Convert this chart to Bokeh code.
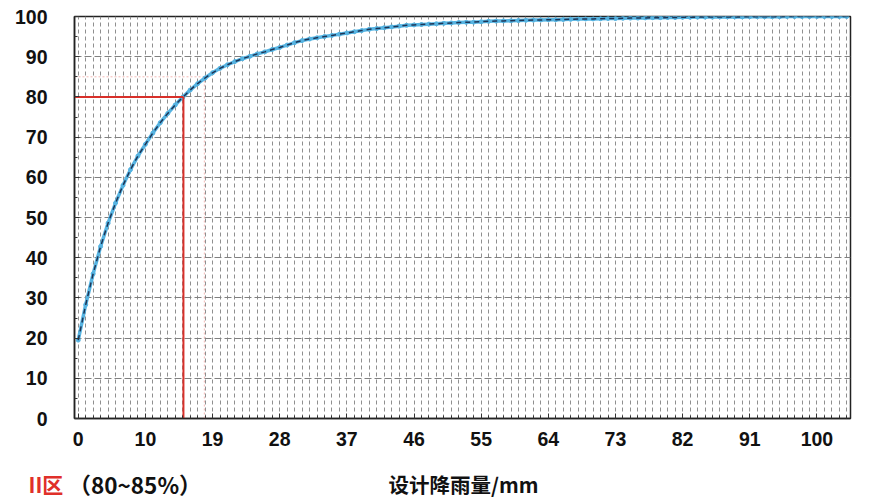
from bokeh.plotting import figure
from bokeh.layouts import column
from bokeh.models import FixedTicker, Range1d
from bokeh.core.properties import value
from bokeh.embed import file_html
from bokeh.resources import INLINE

# x tick labels (rainfall, mm) at every 9th category
tick_labels = ["0", "10", "19", "28", "37", "46", "55", "64", "73", "82", "91", "100"]
tick_index = [0, 9, 18, 27, 36, 45, 54, 63, 72, 81, 90, 99]

# cumulative percentage per category
pct = [19.5, 28.3, 36.0, 42.8, 48.6, 53.6, 58.0, 61.9, 65.3, 68.2,
       71.0, 73.6, 75.9, 78.0, 79.9, 81.7, 83.3, 84.7, 86.0, 87.1,
       88.0, 88.8, 89.5, 90.1, 90.7, 91.2, 91.8, 92.3, 92.9, 93.5,
       94.0, 94.4, 94.7, 95.0, 95.3, 95.6, 95.9, 96.2, 96.5, 96.8,
       97.0, 97.2, 97.4, 97.6, 97.8, 97.9, 98.0, 98.1, 98.2, 98.3,
       98.4, 98.5, 98.55, 98.6, 98.7, 98.8, 98.85, 98.9, 98.95, 99.0,
       99.05, 99.1, 99.15, 99.2, 99.2, 99.25, 99.3, 99.35, 99.4, 99.4,
       99.45, 99.5, 99.5, 99.55, 99.6, 99.6, 99.65, 99.7, 99.7, 99.75,
       99.75, 99.8, 99.8, 99.85, 99.85, 99.85, 99.9, 99.9, 99.9, 99.9,
       99.95, 99.95, 99.95, 99.95, 99.95, 100.0, 100.0, 100.0, 100.0, 100.0,
       100.0, 100.0, 100.0, 100.0]
idx = list(range(len(pct)))

# design thresholds
red_level = 80
red_at = 14.1
pink_level = 85
pink_at = 16.9

x_title = "设计降雨量/mm"
zone_name = "II区"
zone_range = "（80~85%）"

W = 876
H_MAIN = 463
H_NOTE = 36

p = figure(width=W, height=H_MAIN, output_backend="svg", toolbar_location=None,
           x_range=Range1d(-0.5, len(pct) - 0.5), y_range=Range1d(0, 100),
           min_border_left=74, min_border_right=W - 850, min_border_top=16,
           min_border_bottom=H_MAIN - 418)
p.frame_align = False
p.background_fill_color = "white"
p.border_fill_color = "white"
p.outline_line_color = "#222222"
p.outline_line_width = 1.5

# axes
p.xaxis.ticker = FixedTicker(ticks=tick_index, minor_ticks=idx)
p.xaxis.major_label_overrides = {i: l for i, l in zip(tick_index, tick_labels)}
p.yaxis.ticker = FixedTicker(ticks=list(range(0, 101, 10)), minor_ticks=list(range(0, 101, 5)))
for ax in (p.xaxis[0], p.yaxis[0]):
    ax.axis_line_color = "#222222"
    ax.axis_line_width = 1.5
    ax.major_tick_in = 5
    ax.major_tick_out = 0
    ax.minor_tick_in = 3
    ax.minor_tick_out = 0
    ax.major_tick_line_color = "#333333"
    ax.minor_tick_line_color = "#333333"
    ax.major_label_text_font = "Liberation Sans"
    ax.major_label_text_font_style = "bold"
    ax.major_label_text_font_size = "19.5px"
    ax.major_label_text_color = "#111111"
p.yaxis.major_label_standoff = 27
p.xaxis.major_label_standoff = 13

# grids
p.xgrid.ticker = FixedTicker(ticks=idx)
p.xgrid.grid_line_color = "#8f8f8f"
p.xgrid.grid_line_dash = "4 3"
p.xgrid.grid_line_width = 1
p.ygrid.ticker = FixedTicker(ticks=list(range(10, 100, 10)))
p.ygrid.grid_line_color = "#808080"
p.ygrid.grid_line_dash = "7 3"
p.ygrid.grid_line_width = 1.2

# faint pink guide lines (85%)
p.segment(x0=[-0.5, pink_at], y0=[pink_level, 0], x1=[pink_at, pink_at], y1=[pink_level, pink_level],
          line_color="#f2b8b5", line_width=1, line_dash="2 2")

# curve
p.line(idx, pct, line_color="#56b4e2", line_width=3.5)
p.scatter(idx, pct, size=4, color="#56b4e2")
p.line(idx, pct, line_color="#1d3557", line_width=1.5, line_dash="5 4")

# red guide lines (80%)
p.segment(x0=[-0.5, red_at], y0=[red_level, 0], x1=[red_at, red_at], y1=[red_level, red_level],
          line_color="#d8302a", line_width=2)

# bottom strip with the zone note and the x-axis title
q = figure(width=W, height=H_NOTE, output_backend="svg", toolbar_location=None,
           x_range=Range1d(0, W), y_range=Range1d(0, H_NOTE),
           x_axis_type=None, y_axis_type=None,
           min_border_left=0, min_border_right=0, min_border_top=0, min_border_bottom=0)
q.frame_align = False
q.outline_line_color = None
q.grid.visible = False
q.background_fill_color = "white"
q.border_fill_color = "white"

note_y = H_NOTE - (484 - H_MAIN) + 1
q.text(x=[28], y=[note_y], text=[zone_name], text_color="#e0302a",
       text_font=value("Noto Sans CJK SC"), text_font_style="bold", text_font_size="21px",
       text_baseline="middle", text_align="left")
q.text(x=[68], y=[note_y], text=[zone_range], text_color="#111111",
       text_font=value("Noto Sans CJK SC"), text_font_style="bold", text_font_size="22.5px",
       text_baseline="middle", text_align="left")
q.text(x=[388], y=[note_y], text=[x_title], text_color="#111111",
       text_font=value("Noto Sans CJK SC"), text_font_style="bold", text_font_size="20.5px",
       text_baseline="middle", text_align="left")

layout = column(p, q, spacing=0)
open("out.html", "w").write(file_html(layout, INLINE))
